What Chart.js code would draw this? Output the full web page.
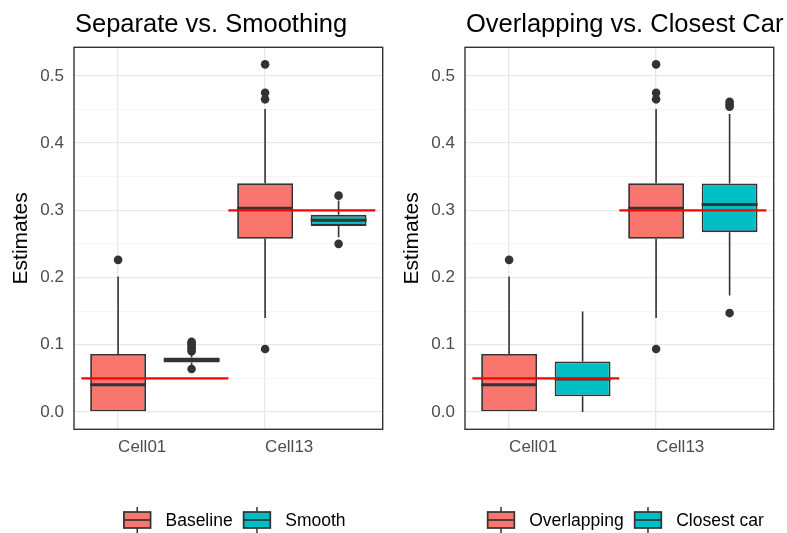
<!DOCTYPE html>
<html>
<head>
<meta charset="utf-8">
<script src="https://cdn.jsdelivr.net/npm/chart.js@4/dist/chart.umd.min.js"></script>
<style>
  html, body { margin: 0; padding: 0; background: #ffffff; }
  #wrap { position: relative; width: 787px; height: 533px; overflow: hidden; background: #ffffff; }
  .panel { position: absolute; top: 0; height: 533px; }
</style>
</head>
<body>
<div id="wrap">
  <div class="panel" style="left:0;width:393px"><canvas id="leftChart" width="393" height="533"></canvas></div>
  <div class="panel" style="left:391px;width:396px"><canvas id="rightChart" width="396" height="533"></canvas></div>
</div>
<script>
// Categories on the x axis and labelled y ticks
const categories = ['Cell01', 'Cell13'];
const yTicks = [0.0, 0.1, 0.2, 0.3, 0.4, 0.5];
// True parameter value per cell (red reference segments)
const trueValues = [0.05, 0.30];

// Baseline estimates: whisker ends, quartiles, median, outliers
const baselineLow  = [0.0000, 0.1397];
const baselineQ1   = [0.0000, 0.2575];
const baselineMed  = [0.0406, 0.3031];
const baselineQ3   = [0.0862, 0.3403];
const baselineHigh = [0.2015, 0.4507];
const baselineOut  = [[0.2263], [0.0936, 0.4651, 0.4749, 0.5171]];

// Smooth estimates
const smoothLow  = [0.0680, 0.2600];
const smoothQ1   = [0.0736, 0.2768];
const smoothMed  = [0.0773, 0.2853];
const smoothQ3   = [0.0812, 0.2932];
const smoothHigh = [0.0880, 0.3145];
const smoothOut  = [[0.0639, 0.0902, 0.0935, 0.0968, 0.0998, 0.1025, 0.1045], [0.2501, 0.3218]];

// Overlapping estimates
const overlappingLow  = [0.0000, 0.1397];
const overlappingQ1   = [0.0000, 0.2575];
const overlappingMed  = [0.0406, 0.3031];
const overlappingQ3   = [0.0862, 0.3403];
const overlappingHigh = [0.2015, 0.4507];
const overlappingOut  = [[0.2263], [0.0936, 0.4651, 0.4749, 0.5171]];

// Closest car estimates
const closestLow  = [0.0000, 0.1733];
const closestQ1   = [0.0232, 0.2675];
const closestMed  = [0.0490, 0.3085];
const closestQ3   = [0.0752, 0.3397];
const closestHigh = [0.1495, 0.4432];
const closestOut  = [[], [0.1471, 0.4541, 0.4578, 0.4615]];

const FONT = "'Liberation Sans', Arial, Helvetica, sans-serif";
const RED = '#ff0000';
const DARK = '#333333';
const PINK = '#F8766D';
const TEAL = '#00BFC4';

function stats(low, q1, med, q3, high, out) {
  return { low, q1, med, q3, high, out };
}

// Floating bar spanning the interquartile range; second series sits half a step right
function boxDataset(label, color, s, shift) {
  return {
    type: 'bar',
    label: label,
    order: 4,
    data: categories.map((c, i) => ({ x: i + 1 + shift, y: [s.q1[i], s.q3[i]] })),
    backgroundColor: color,
    borderColor: DARK,
    borderWidth: 1.8,
    borderSkipped: false,
    barPercentage: 0.76,
    categoryPercentage: 1,
    grouped: false,
    boxStats: s
  };
}

function outlierDataset(s, shift) {
  const pts = [];
  categories.forEach((c, i) => s.out[i].forEach(v => pts.push({ x: i + 1 + shift, y: v })));
  return {
    type: 'scatter',
    order: 2,
    data: pts,
    pointRadius: 4.3,
    pointHoverRadius: 4.3,
    pointBackgroundColor: DARK,
    pointBorderWidth: 0
  };
}

function truthDataset() {
  const pts = [];
  trueValues.forEach((v, i) => {
    pts.push({ x: i + 1 - 0.25, y: v });
    pts.push({ x: i + 1 + 0.75, y: v });
    pts.push({ x: i + 1 + 0.75, y: null });
  });
  return {
    type: 'line',
    order: 1,
    data: pts,
    borderColor: RED,
    borderWidth: 2.2,
    pointRadius: 0,
    spanGaps: false,
    fill: false,
    tension: 0
  };
}

const isMajor = v => yTicks.some(t => Math.abs(t - v) < 1e-6);

// Whiskers, medians, panel frame, title and legend
const boxParts = {
  id: 'boxParts',
  beforeDatasetsDraw(chart) {
    const ctx = chart.ctx;
    const y = chart.scales.y;
    ctx.save();
    ctx.strokeStyle = DARK;
    ctx.lineWidth = 1.6;
    chart.data.datasets.forEach((ds, di) => {
      if (!ds.boxStats) return;
      const meta = chart.getDatasetMeta(di);
      meta.data.forEach((bar, i) => {
        const s = ds.boxStats;
        const cx = bar.x;
        ctx.beginPath();
        ctx.moveTo(cx, y.getPixelForValue(s.q3[i]));
        ctx.lineTo(cx, y.getPixelForValue(s.high[i]));
        ctx.moveTo(cx, y.getPixelForValue(s.q1[i]));
        ctx.lineTo(cx, y.getPixelForValue(s.low[i]));
        ctx.stroke();
      });
    });
    ctx.restore();
  },
  afterDatasetDraw(chart, args) {
    const ds = chart.data.datasets[args.index];
    if (!ds.boxStats) return;
    const ctx = chart.ctx;
    const y = chart.scales.y;
    ctx.save();
    ctx.strokeStyle = DARK;
    ctx.lineWidth = 3;
    args.meta.data.forEach((bar, i) => {
      const py = y.getPixelForValue(ds.boxStats.med[i]);
      ctx.beginPath();
      ctx.moveTo(bar.x - bar.width / 2, py);
      ctx.lineTo(bar.x + bar.width / 2, py);
      ctx.stroke();
    });
    ctx.restore();
  },
  afterDraw(chart, args, opts) {
    const ctx = chart.ctx;
    const a = chart.chartArea;
    ctx.save();
    // panel frame
    ctx.strokeStyle = DARK;
    ctx.lineWidth = 1.4;
    ctx.strokeRect(a.left, a.top, a.right - a.left, a.bottom - a.top);
    // title
    ctx.fillStyle = '#000000';
    ctx.font = '25.5px ' + FONT;
    ctx.textAlign = 'left';
    ctx.textBaseline = 'alphabetic';
    ctx.fillText(opts.title, a.left + 1, 31.7);
    // legend
    ctx.font = '17.5px ' + FONT;
    const iconW = 26.7, gapIcon = 14.9, gapItem = 11;
    const widths = opts.legend.map(it => iconW + gapIcon + ctx.measureText(it.text).width);
    const total = widths.reduce((p, q) => p + q, 0) + gapItem * (widths.length - 1);
    let x = 234.7 - total / 2;
    const cy = 520;
    opts.legend.forEach((it, k) => {
      ctx.strokeStyle = DARK;
      ctx.lineWidth = 1.5;
      ctx.beginPath();
      ctx.moveTo(x + iconW / 2, cy - 13);
      ctx.lineTo(x + iconW / 2, cy + 13);
      ctx.stroke();
      ctx.fillStyle = it.color;
      ctx.fillRect(x, cy - 8, iconW, 16);
      ctx.lineWidth = 1.7;
      ctx.strokeRect(x, cy - 8, iconW, 16);
      ctx.beginPath();
      ctx.moveTo(x, cy);
      ctx.lineTo(x + iconW, cy);
      ctx.stroke();
      ctx.fillStyle = '#000000';
      ctx.textBaseline = 'middle';
      ctx.fillText(it.text, x + iconW + gapIcon, cy + 1);
      x += widths[k] + gapItem;
    });
    ctx.restore();
  }
};

function buildPanel(canvasId, width, title, nameA, statsA, nameB, statsB) {
  return new Chart(document.getElementById(canvasId), {
    type: 'bar',
    data: {
      datasets: [
        boxDataset(nameA, PINK, statsA, 0),
        boxDataset(nameB, TEAL, statsB, 0.5),
        outlierDataset(statsA, 0),
        outlierDataset(statsB, 0.5),
        truthDataset()
      ]
    },
    options: {
      responsive: false,
      animation: false,
      events: [],
      layout: { padding: { top: 47.3, right: width - 382.7, bottom: 0, left: 0 } },
      plugins: {
        legend: { display: false },
        title: { display: false },
        tooltip: { enabled: false },
        boxParts: {
          title: title,
          legend: [{ text: nameA, color: PINK }, { text: nameB, color: TEAL }]
        }
      },
      scales: {
        x: {
          type: 'linear',
          min: 0.7,
          max: 2.8,
          offset: false,
          afterBuildTicks: s => { s.ticks = categories.map((c, i) => ({ value: i + 1 })); },
          afterFit: s => { s.height = 533 - 429.3; },
          ticks: {
            autoSkip: false,
            maxRotation: 0,
            align: 'start',
            padding: 8,
            color: '#4d4d4d',
            font: { family: FONT, size: 17 },
            callback: v => categories[Math.round(v) - 1]
          },
          grid: { offset: false, drawTicks: false, color: '#e8e8e8', lineWidth: 1.3 },
          border: { display: false }
        },
        y: {
          type: 'linear',
          min: -0.0258,
          max: 0.5425,
          afterFit: s => { s.width = 74; },
          ticks: {
            stepSize: 0.05,
            includeBounds: false,
            autoSkip: false,
            padding: 10,
            color: '#4d4d4d',
            font: { family: FONT, size: 17 },
            callback: v => (isMajor(v) ? v.toFixed(1) : '')
          },
          grid: {
            drawTicks: false,
            color: c => (isMajor(c.tick.value) ? '#e8e8e8' : '#f2f2f2'),
            lineWidth: c => (isMajor(c.tick.value) ? 1.3 : 0.8)
          },
          border: { display: false },
          title: {
            display: true,
            text: 'Estimates',
            color: '#000000',
            font: { family: FONT, size: 21 },
            padding: { top: 9, bottom: 0 }
          }
        }
      }
    },
    plugins: [boxParts]
  });
}

buildPanel('leftChart', 393, 'Separate vs. Smoothing',
  'Baseline', stats(baselineLow, baselineQ1, baselineMed, baselineQ3, baselineHigh, baselineOut),
  'Smooth', stats(smoothLow, smoothQ1, smoothMed, smoothQ3, smoothHigh, smoothOut));

buildPanel('rightChart', 396, 'Overlapping vs. Closest Car',
  'Overlapping', stats(overlappingLow, overlappingQ1, overlappingMed, overlappingQ3, overlappingHigh, overlappingOut),
  'Closest car', stats(closestLow, closestQ1, closestMed, closestQ3, closestHigh, closestOut));
</script>
</body>
</html>
